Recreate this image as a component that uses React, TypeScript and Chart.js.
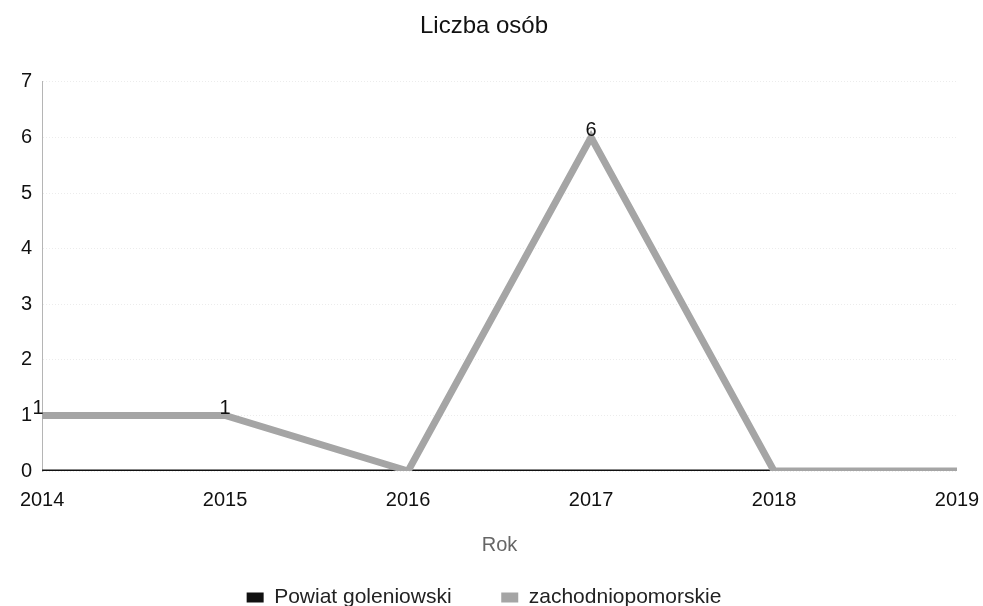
import React, { useEffect, useRef } from "react";
import { Chart, registerables } from "chart.js";

Chart.register(...registerables);

const years = ["2014", "2015", "2016", "2017", "2018", "2019"];
const powiatGoleniowski = [0, 0, 0, 0, 0, 0];
const zachodniopomorskie = [1, 1, 0, 6, 0, 0];
const yTicks = [0, 1, 2, 3, 4, 5, 6, 7];
const seriesNames = ["Powiat goleniowski", "zachodniopomorskie"];

const FONT = "'Liberation Sans', Arial, sans-serif";

const valueLabels = {
  id: "valueLabels",
  afterDatasetsDraw(chart: any) {
    const ctx = chart.ctx;
    const meta = chart.getDatasetMeta(1);
    const data = chart.data.datasets[1].data as number[];
    ctx.save();
    ctx.font = `20px ${FONT}`;
    ctx.fillStyle = "#111";
    ctx.textAlign = "center";
    ctx.textBaseline = "alphabetic";
    meta.data.forEach((pt: any, i: number) => {
      const v = data[i];
      if (v) ctx.fillText(String(v), pt.x - (i === 0 ? 4 : 0), pt.y - 1);
    });
    ctx.restore();
  },
};

export default function App() {
  const ref = useRef<HTMLCanvasElement>(null);
  useEffect(() => {
    document.body.style.margin = "0";
    const chart = new Chart(ref.current!, {
      type: "line",
      data: {
        labels: years,
        datasets: [
          {
            label: seriesNames[0],
            data: powiatGoleniowski,
            borderColor: "#111111",
            backgroundColor: "#111111",
            borderWidth: 3,
            pointRadius: 0,
            tension: 0,
            order: 2,
          },
          {
            label: seriesNames[1],
            data: zachodniopomorskie,
            borderColor: "#a5a5a5",
            backgroundColor: "#a5a5a5",
            borderWidth: 7,
            pointRadius: 0,
            tension: 0,
            order: 1,
          },
        ],
      },
      options: {
        animation: false,
        responsive: false,
        layout: { padding: { left: 11, right: 26, top: 0, bottom: -12 } },
        plugins: {
          title: {
            display: true,
            text: "Liczba osób",
            color: "#111",
            font: { family: FONT, size: 24, weight: "normal" },
            padding: { top: 12, bottom: 41 },
          },
          legend: {
            position: "bottom",
            labels: {
              color: "#222",
              font: { family: FONT, size: 21 },
              boxWidth: 17,
              boxHeight: 10,
              padding: 3,
              generateLabels: (ch: any) => {
                const items = Chart.defaults.plugins.legend.labels.generateLabels(ch);
                items.sort((a: any, b: any) => a.datasetIndex - b.datasetIndex);
                items.forEach((it: any, idx: number) => {
                  it.lineWidth = 0;
                  if (idx === 0) it.text = it.text + "\u00a0\u00a0\u00a0\u00a0\u00a0\u00a0\u00a0\u00a0";
                });
                return items;
              },
            },
          },
          tooltip: { enabled: false },
        },
        scales: {
          x: {
            offset: false,
            grid: { display: false, drawTicks: false },
            border: { display: false },
            afterFit: (scale: any) => {
              scale.paddingLeft = 0;
              scale.paddingRight = 0;
            },
            ticks: {
              color: "#111",
              font: { family: FONT, size: 20 },
              padding: 17,
              maxRotation: 0,
            },
            title: {
              display: true,
              text: "Rok",
              color: "#666",
              font: { family: FONT, size: 20 },
              padding: { top: 4, bottom: 27 },
            },
          },
          y: {
            min: 0,
            max: 7,
            afterBuildTicks: (axis: any) => {
              axis.ticks = yTicks.map((v) => ({ value: v }));
            },
            grid: { color: "#ececec", drawTicks: false, lineWidth: 1 },
            border: { display: true, color: "#b5b5b5", dash: [1, 2] },
            ticks: {
              color: "#111",
              font: { family: FONT, size: 20 },
              padding: 10,
            },
          },
        },
      },
      plugins: [valueLabels],
    });
    return () => chart.destroy();
  }, []);
  return (
    <div style={{ width: 983, height: 606 }}>
      <canvas ref={ref} width={983} height={606} />
    </div>
  );
}
